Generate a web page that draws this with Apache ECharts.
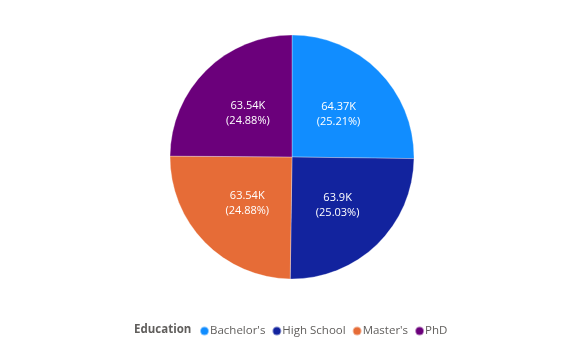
<!DOCTYPE html>
<html><head><meta charset="utf-8">
<script src="https://cdn.jsdelivr.net/npm/echarts@6/dist/echarts.min.js"></script>
<style>html,body{margin:0;padding:0;background:#fff}#c{width:575px;height:343px}</style>
</head><body><div id="c"></div>
<script>
const categories = ["Bachelor's", "High School", "Master's", "PhD"];
const values = [64372, 63904, 63536, 63536];
const colors = ["#118DFF", "#12239E", "#E66C37", "#6B007B"];
const legendTitle = "Education";

const total = values.reduce((a, b) => a + b, 0);
function fmtK(v) {
  return parseFloat((v / 1000).toFixed(2)).toString() + "K";
}
const chart = echarts.init(document.getElementById('c'), null, {renderer: 'canvas'});
chart.setOption({
  animation: false,
  color: colors,
  graphic: [{
    type: 'text', left: 134, top: 324,
    style: {text: legendTitle, font: 'bold 11.5px "Open Sans", sans-serif', fill: '#605E5C'}
  }],
  legend: {
    left: 199, top: 325, padding: 0, icon: 'circle', itemWidth: 9, itemHeight: 9, itemGap: 6,
    textStyle: {fontFamily: '"Open Sans", sans-serif', fontSize: 11.5, color: '#605E5C', padding: [0, 0, 0, -4]},
    data: categories
  },
  series: [{
    type: 'pie',
    center: [292, 157], radius: 122, startAngle: 90, clockwise: true,
    itemStyle: {borderColor: 'rgba(255,255,255,0.5)', borderWidth: 0.6},
    label: {
      position: 'inside', color: '#fff', fontFamily: '"Open Sans", sans-serif', fontSize: 11, lineHeight: 15,
      offset: [1, 2],
      formatter: p => fmtK(p.value) + "\n(" + (p.value / total * 100).toFixed(2) + "%)"
    },
    labelLine: {show: false},
    emphasis: {disabled: true},
    data: categories.map((c, i) => ({name: c, value: values[i]}))
  }]
});
</script></body></html>
